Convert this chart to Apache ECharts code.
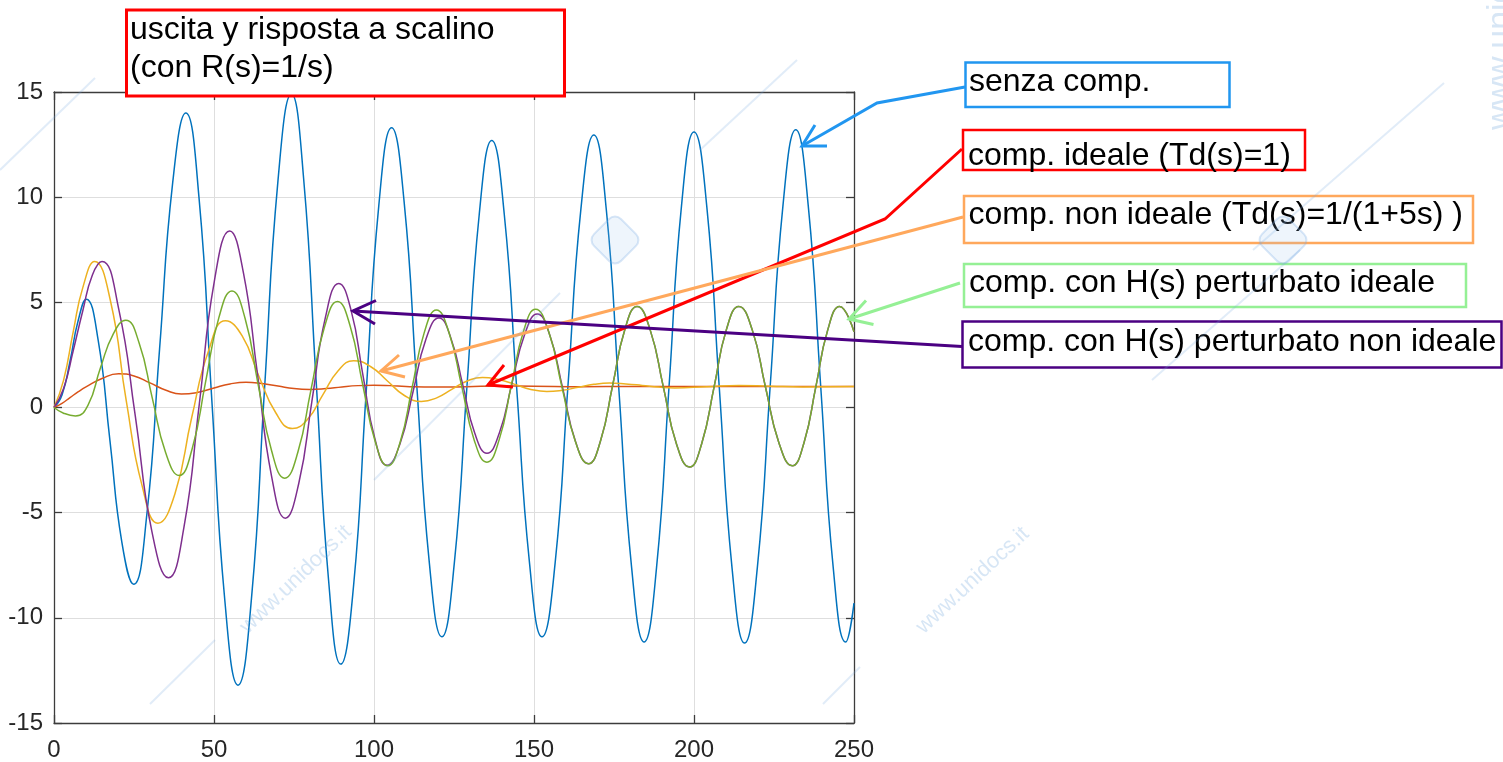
<!DOCTYPE html>
<html>
<head>
<meta charset="utf-8">
<script src="https://cdn.jsdelivr.net/npm/echarts@6/dist/echarts.min.js"></script>
<style>
  html, body { margin: 0; padding: 0; background: #ffffff; }
  #chart { width: 1503px; height: 762px; }
</style>
</head>
<body>
<div id="chart"></div>
<script>
// Step responses y(t) for R(s) = 1/s, as [t, y] pairs
const senzaComp = [
  [0,0],[2.5,0.6],[5,2.2],[7.5,4.1],[10.1,5.15],
  [13.8,3.2],[17.5,-1.6],[21.2,-6.4],[24.9,-8.4],
  [29,-5.1],[33,2.8],[37.1,10.7],[41.2,14.0],
  [45.3,10.0],[49.3,0.4],[53.4,-9.2],[57.5,-13.2],
  [61.7,-9.1],[65.8,0.9],[70,10.8],[74.2,14.9],
  [78,10.9],[81.9,1.3],[85.8,-8.2],[89.6,-12.2],
  [93.6,-8.5],[97.5,0.6],[101.5,9.6],[105.5,13.3],
  [109.4,9.8],[113.3,1.2],[117.3,-7.4],[121.2,-10.9],
  [125.1,-7.4],[129,0.9],[132.9,9.2],[136.8,12.7],
  [140.7,9.2],[144.6,0.9],[148.6,-7.4],[152.5,-10.9],
  [156.6,-7.4],[160.6,1.0],[164.7,9.5],[168.7,12.95],
  [172.6,9.4],[176.5,0.9],[180.5,-7.6],[184.4,-11.15],
  [188.3,-7.6],[192.2,1.0],[196.1,9.6],[200,13.1],
  [204,9.55],[207.9,0.95],[211.9,-7.65],[215.8,-11.2],
  [219.8,-7.6],[223.8,1.0],[227.8,9.6],[231.8,13.2],
  [235.7,9.6],[239.6,1.0],[243.5,-7.6],[247.4,-11.15],
  [250,-9.3]
];

const compIdeale = [
  [0,0],[2.5,0.2],[5,0.47],[7.5,0.74],[10,0.98],[15,1.38],[20.2,1.6],
  [25,1.5],[30,1.17],[35,0.82],[39.8,0.64],[45,0.72],[50,0.93],[55,1.12],
  [60,1.2],[65,1.14],[70,1.02],[75,0.9],[80,0.86],[85,0.9],[90,0.98],
  [95,1.04],[100,1.06],[105,1.04],[110,1.0],[119,0.97],[129,0.99],
  [139,1.02],[150,1.01],[165,0.99],[180,1.0],[200,1.0],[225,1.0],[250,1.0]
];

const compNonIdeale = [
  [0,0],[3,1.3],[6,3.6],[9,5.7],[12.7,6.94],[17.6,5.1],[22.6,0.3],[27.5,-3.7],
  [32.5,-5.5],[37.8,-4.1],[43,-0.5],[48.3,2.7],[53.6,4.12],[58.8,3.4],[64,1.5],
  [69.3,-0.25],[74.5,-1.0],[79.3,-0.55],[84,0.6],[88.8,1.75],[93.6,2.22],
  [98.9,1.95],[104.2,1.26],[109.5,0.57],[114.8,0.29],[119.6,0.46],[124.3,0.86],
  [129.1,1.26],[133.9,1.43],[138.9,1.33],[144,1.1],[149,0.86],[154,0.76],
  [158.9,0.82],[163.8,0.96],[168.7,1.1],[173.6,1.16],[178.7,1.12],[183.8,1.05],
  [189,0.97],[194,0.93],[204,0.99],[214,1.05],[224,1.01],[234,0.98],[250,1.0]
];

const hPerturbatoNonIdeale = [
  [0,0],[3,0.9],[6,2.7],[9,4.6],[12,6.3],[15,6.94],
  [20.2,4.7],[25.4,-0.4],[30.6,-5.9],[35.8,-8.1],
  [40.6,-5.7],[45.4,0.15],[50.1,6.0],[54.9,8.39],
  [59.2,6.4],[63.6,1.57],[68,-3.27],[72.3,-5.26],
  [76.5,-3.6],[80.6,0.3],[84.8,4.27],[89,5.9],
  [92.8,4.64],[96.5,1.58],[100.3,-1.5],[104.1,-2.75],
  [108.1,-1.73],[112.2,0.75],[116.2,3.23],[120.3,4.25],
  [124,3.31],[127.8,1.04],[131.5,-1.23],[135.3,-2.17],
  [139.2,-1.2],[143.1,1.14],[147.1,3.48],[151,4.45],
  [155,3.41],[159,0.89],[163,-1.63],[167,-2.67],
  [170.8,-1.58],[174.6,1.07],[178.4,3.71],[182.2,4.8],
  [186.3,3.69],[190.4,0.99],[194.5,-1.72],[198.6,-2.83],
  [202.4,-1.72],[206.3,0.99],[210.1,3.69],[214,4.8],
  [218.2,3.69],[222.3,1.0],[226.5,-1.66],[230.7,-2.77],
  [234.4,-1.66],[238.1,1.0],[241.8,3.69],[245.5,4.8],
  [250,3.6]
];

const hPerturbatoIdeale = [
  [0,0],[3,-0.27],[6.7,-0.4],[10.6,0.1],[14.5,1.88],[18.5,3.49],[22.4,4.15],
  [26.6,3.07],[30.7,0.46],[34.9,-2.15],[39.1,-3.23],
  [43.2,-1.95],[47.3,1.16],[51.5,4.26],[55.6,5.54],
  [59.7,4.24],[63.8,1.09],[68,-2.06],[72.1,-3.36],
  [76.2,-2.13],[80.3,0.84],[84.5,3.81],[88.6,5.04],
  [92.5,3.9],[96.4,1.14],[100.4,-1.63],[104.3,-2.77],
  [108.1,-1.69],[111.9,0.94],[115.7,3.56],[119.5,4.64],
  [123.4,3.58],[127.4,1.02],[131.3,-1.54],[135.3,-2.6],
  [139.1,-1.54],[142.9,1.04],[146.7,3.61],[150.5,4.67],
  [154.6,3.6],[158.7,1.0],[162.9,-1.6],[167,-2.67],
  [170.8,-1.58],[174.6,1.07],[178.4,3.71],[182.2,4.8],
  [186.3,3.69],[190.4,0.99],[194.5,-1.72],[198.6,-2.83],
  [202.4,-1.72],[206.3,0.99],[210.1,3.69],[214,4.8],
  [218.2,3.69],[222.3,1.0],[226.5,-1.66],[230.7,-2.77],
  [234.4,-1.66],[238.1,1.0],[241.8,3.69],[245.5,4.8],
  [250,3.6]
];

// Axis ranges and tick spacing
const xRange = [0, 250];
const xStep = 50;
const yRange = [-15, 15];
const yStep = 5;

// Annotation texts
const titleLines = ['uscita y risposta a scalino', '(con R(s)=1/s)'];
const seriesNames = [
  'senza comp.',
  'comp. ideale (Td(s)=1)',
  'comp. non ideale (Td(s)=1/(1+5s) )',
  'comp. con H(s) perturbato ideale',
  'comp. con H(s) perturbato non ideale'
];
const watermarkText = 'www.unidocs.it';

const lineColors = ['#0072BD', '#D95319', '#EDB120', '#7E2F8E', '#77AC30'];
const seriesData = [senzaComp, compIdeale, compNonIdeale, hPerturbatoNonIdeale, hPerturbatoIdeale];

const axisColor = '#3c3c3c';
const FONT = '"Liberation Sans", Arial, Helvetica, sans-serif';

function axisCommon(showLabels, isX) {
  return {
    type: 'value',
    min: isX ? xRange[0] : yRange[0],
    max: isX ? xRange[1] : yRange[1],
    interval: isX ? xStep : yStep,
    axisLine: { show: true, onZero: false, lineStyle: { color: axisColor, width: 1.3 } },
    axisTick: { show: true, inside: true, length: 8, lineStyle: { color: axisColor, width: 1.3 } },
    axisLabel: {
      show: showLabels,
      color: '#262626',
      fontSize: 24,
      fontFamily: FONT,
      margin: isX ? 15 : 11
    },
    splitLine: { show: showLabels, lineStyle: { color: '#dedede', width: 1 } }
  };
}

// Boxed labels and arrows drawn over the plot
const annColors = {
  title: '#FF0000',
  senza: '#2196F0',
  ideale: '#FF0000',
  nonIdeale: '#FFA85C',
  hIdeale: '#95F095',
  hNonIdeale: '#4B0082'
};

function box(x, y, w, h, stroke, lw) {
  return { type: 'rect', silent: true, z: 110,
    shape: { x: x, y: y, width: w, height: h },
    style: { fill: '#ffffff', stroke: stroke, lineWidth: lw } };
}
function label(text, x, y) {
  return { type: 'text', silent: true, z: 111, x: x, y: y,
    style: { text: text, fill: '#000000', font: '32px ' + FONT, align: 'left', verticalAlign: 'middle' } };
}
function path(points, stroke) {
  return { type: 'polyline', silent: true, z: 105,
    shape: { points: points },
    style: { stroke: stroke, lineWidth: 3, fill: null, lineJoin: 'miter' } };
}
function wmText(x, y, angleDeg, size) {
  return { type: 'text', silent: true, z: 120, x: x, y: y, rotation: angleDeg * Math.PI / 180,
    style: { text: watermarkText, fill: 'rgba(110,165,220,0.28)', font: size + 'px ' + FONT } };
}
function wmLine(points) {
  return { type: 'polyline', silent: true, z: 120, shape: { points: points },
    style: { stroke: 'rgba(120,170,225,0.22)', lineWidth: 2, fill: null } };
}
// small rounded diamond badge of the site watermark
function wmBadge(cx, cy, size) {
  return { type: 'rect', silent: true, z: 120, x: cx, y: cy, rotation: Math.PI / 4,
    shape: { x: -size / 2, y: -size / 2, width: size, height: size, r: size * 0.22 },
    style: { fill: 'rgba(150,195,235,0.16)', stroke: 'rgba(120,170,225,0.28)', lineWidth: 2 } };
}

const graphics = [
  // arrows
  path([[965, 87], [877, 103], [802, 146]], annColors.senza),
  path([[815, 125], [802, 146], [827, 146]], annColors.senza),
  path([[962, 149], [885, 219], [488, 385]], annColors.ideale),
  path([[504, 365], [488, 385], [513, 387]], annColors.ideale),
  path([[963, 217], [381, 371]], annColors.nonIdeale),
  path([[399, 355], [381, 371], [405, 377]], annColors.nonIdeale),
  path([[960, 283], [849, 319]], annColors.hIdeale),
  path([[866, 300.5], [849, 319], [873.5, 324.5]], annColors.hIdeale),
  path([[962, 346.5], [353, 311]], annColors.hNonIdeale),
  path([[376, 300.5], [353, 311], [375, 324]], annColors.hNonIdeale),

  // title box
  box(126.5, 10, 438, 86, annColors.title, 3),
  label(titleLines[0], 130, 30),
  label(titleLines[1], 130, 67.8),

  // series boxes
  box(965.5, 62.5, 264, 44.5, annColors.senza, 2.5),
  label(seriesNames[0], 969, 82.4),
  box(963, 130, 342, 40, annColors.ideale, 2.5),
  label(seriesNames[1], 968, 156),
  box(964, 196, 509, 47, annColors.nonIdeale, 2.5),
  label(seriesNames[2], 968.5, 215),
  box(964, 264, 502, 43, annColors.hIdeale, 2.5),
  label(seriesNames[3], 969, 283.4),
  box(962.5, 321.5, 539, 46, annColors.hNonIdeale, 2.5),
  label(seriesNames[4], 968, 341.7),

  // faint site watermark
  wmLine([[0, 170], [95, 78]]),
  wmLine([[150, 704], [215, 640]]),
  wmLine([[374, 480], [560, 293]]),
  wmLine([[700, 150], [797, 60]]),
  wmLine([[823, 704], [860, 667]]),
  wmLine([[1444, 83], [1253, 250]]),
  wmLine([[1300, 250], [1152, 380]]),
  wmBadge(615, 240, 38),
  wmBadge(1283, 240, 38),
  wmText(236, 622, 44, 22),
  wmText(912, 622, 43, 22),
  wmText(1484, 130, 90, 34)
];

const chart = echarts.init(document.getElementById('chart'), null, { renderer: 'canvas' });
chart.setOption({
  animation: false,
  backgroundColor: '#ffffff',
  textStyle: { fontFamily: FONT },
  grid: { left: 54, right: 649, top: 92, bottom: 39, containLabel: false },
  xAxis: [
    Object.assign(axisCommon(true, true), { position: 'bottom' }),
    Object.assign(axisCommon(false, true), { position: 'top' })
  ],
  yAxis: [
    Object.assign(axisCommon(true, false), { position: 'left' }),
    Object.assign(axisCommon(false, false), { position: 'right' })
  ],
  series: seriesData.map(function (d, i) {
    return {
      name: seriesNames[i],
      type: 'line',
      xAxisIndex: 0,
      yAxisIndex: 0,
      data: d,
      smooth: 0.5,
      showSymbol: false,
      symbol: 'none',
      clip: true,
      lineStyle: { color: lineColors[i], width: 1.5 },
      z: 2 + i
    };
  }),
  graphic: { elements: graphics }
});
</script>
</body>
</html>
